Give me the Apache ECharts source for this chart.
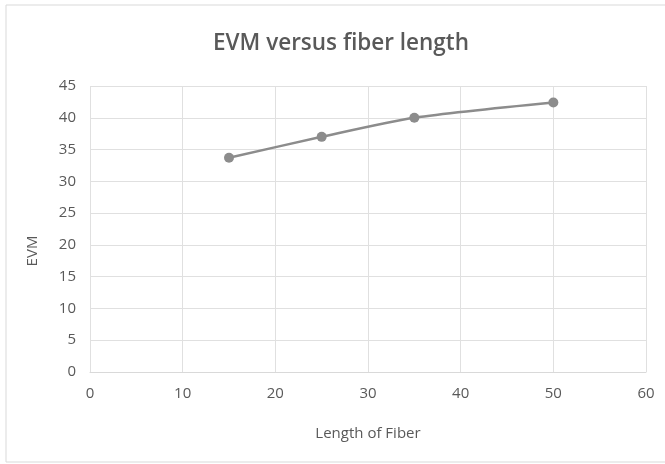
<!DOCTYPE html>
<html>
<head>
<meta charset="utf-8">
<script src="https://cdn.jsdelivr.net/npm/echarts@6/dist/echarts.min.js"></script>
<style>html,body{margin:0;padding:0;background:#fff;}#c{width:665px;height:464px;}</style>
</head>
<body>
<div id="c"></div>
<script>
const fiberLength = [15, 25, 35, 50];
const evmValues = [33.7, 37.0, 40.0, 42.4];
const titleText = 'EVM versus fiber length';
const xName = 'Length of Fiber';
const yName = 'EVM';

const chart = echarts.init(document.getElementById('c'), null, {renderer: 'canvas'});
const font = '"Open Sans", "Noto Sans", sans-serif';
chart.setOption({
  backgroundColor: '#fff',
  animation: false,
  graphic: [{
    type: 'rect', shape: {x: 6, y: 5, width: 700, height: 457},
    style: {fill: 'none', stroke: '#d9d9d9', lineWidth: 1}, z: -1
  }, {
    type: 'text', x: 33, y: 251, rotation: Math.PI / 2,
    style: {text: yName, fontFamily: font, fontSize: 15, fill: '#595959',
            align: 'center', verticalAlign: 'middle'}
  }],
  title: {
    text: titleText, left: 208, top: 27,
    textStyle: {fontFamily: font, fontSize: 22.5, fontWeight: 600, color: '#595959'}
  },
  grid: {left: 90, right: 19, top: 86, bottom: 92, containLabel: false},
  xAxis: {
    type: 'value', min: 0, max: 60, interval: 10,
    name: xName, nameLocation: 'middle', nameGap: 54,
    nameTextStyle: {fontFamily: font, fontSize: 15, color: '#595959'},
    axisLine: {show: true, lineStyle: {color: '#d9d9d9', width: 1}},
    axisTick: {show: false},
    axisLabel: {fontFamily: font, fontSize: 15, color: '#595959', margin: 14},
    splitLine: {show: true, lineStyle: {color: '#e0e0e0', width: 1}}
  },
  yAxis: {
    type: 'value', min: 0, max: 45, interval: 5,
    axisLine: {show: false},
    axisTick: {show: false},
    axisLabel: {fontFamily: font, fontSize: 15, color: '#595959', margin: 14},
    splitLine: {show: true, lineStyle: {color: '#e0e0e0', width: 1}}
  },
  series: [{
    type: 'line',
    data: fiberLength.map((x, i) => [x, evmValues[i]]),
    smooth: 0.25,
    symbol: 'circle', symbolSize: 10,
    lineStyle: {color: '#8c8c8c', width: 2.5},
    itemStyle: {color: '#8c8c8c'}
  }]
});
</script>
</body>
</html>
